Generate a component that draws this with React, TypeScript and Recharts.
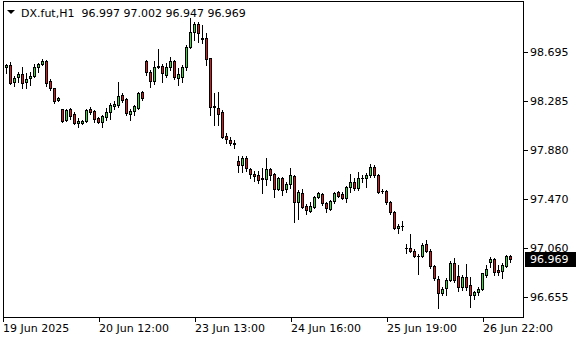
import React from 'react';
import { ComposedChart, Bar, XAxis, YAxis, ReferenceLine } from 'recharts';

// H1 bars, oldest first
const opens = [
  98.603, 98.569, 98.588, 98.444, 98.486, 98.513, 98.449, 98.478, 98.497, 98.569,
  98.599, 98.624, 98.458, 98.394, 98.294, 98.219, 98.130, 98.219, 98.180, 98.103,
  98.108, 98.124, 98.219, 98.203, 98.147, 98.116, 98.155, 98.194, 98.244, 98.255,
  98.336, 98.303, 98.180, 98.208, 98.228, 98.361, 98.619, 98.528, 98.458, 98.569,
  98.580, 98.508, 98.569, 98.624, 98.478, 98.491, 98.569, 98.741, 98.861, 98.928,
  98.816, 98.816, 98.644, 98.247, 98.228, 98.199, 97.997, 97.963, 97.941, 97.791,
  97.755, 97.811, 97.724, 97.678, 97.672, 97.643, 97.636, 97.719, 97.678, 97.559,
  97.643, 97.553, 97.593, 97.663, 97.449, 97.519, 97.415, 97.373, 97.408, 97.488,
  97.512, 97.436, 97.391, 97.453, 97.528, 97.512, 97.478, 97.569, 97.613, 97.561,
  97.647, 97.644, 97.672, 97.738, 97.672, 97.541, 97.538, 97.444, 97.366, 97.228,
  97.245, 97.061, 97.061, 97.041, 96.999, 96.999, 97.094, 97.041, 96.916, 96.805,
  96.686, 96.728, 96.797, 96.936, 96.833, 96.736, 96.824, 96.755, 96.672, 96.699,
  96.719, 96.838, 96.949, 96.972, 96.880, 96.874, 96.916, 96.997,
];
const highs = [
  98.713, 98.597, 98.616, 98.497, 98.533, 98.569, 98.519, 98.528, 98.597, 98.608,
  98.636, 98.630, 98.469, 98.399, 98.319, 98.224, 98.219, 98.228, 98.199, 98.144,
  98.130, 98.219, 98.241, 98.213, 98.158, 98.172, 98.230, 98.269, 98.291, 98.447,
  98.353, 98.311, 98.219, 98.255, 98.366, 98.374, 98.630, 98.547, 98.619, 98.719,
  98.597, 98.603, 98.658, 98.630, 98.561, 98.588, 98.755, 98.978, 98.944, 98.944,
  98.922, 98.853, 98.649, 98.352, 98.366, 98.213, 98.019, 97.991, 97.963, 97.830,
  97.830, 97.830, 97.734, 97.709, 97.701, 97.726, 97.811, 97.728, 97.686, 97.658,
  97.658, 97.616, 97.728, 97.672, 97.547, 97.555, 97.430, 97.449, 97.499, 97.533,
  97.519, 97.449, 97.463, 97.533, 97.538, 97.533, 97.583, 97.680, 97.644, 97.699,
  97.672, 97.686, 97.763, 97.759, 97.680, 97.553, 97.543, 97.451, 97.372, 97.261,
  97.291, 97.094, 97.178, 97.053, 97.011, 97.108, 97.130, 97.053, 96.922, 96.830,
  96.741, 96.811, 96.955, 96.978, 96.922, 96.838, 96.928, 96.824, 96.705, 96.741,
  96.858, 96.922, 96.991, 96.978, 96.922, 96.936, 97.005, 97.002,
];
const lows = [
  98.547, 98.519, 98.428, 98.416, 98.444, 98.399, 98.399, 98.422, 98.486, 98.533,
  98.588, 98.413, 98.380, 98.274, 98.286, 98.116, 98.122, 98.141, 98.094, 98.074,
  98.094, 98.116, 98.180, 98.111, 98.103, 98.074, 98.130, 98.141, 98.219, 98.241,
  98.283, 98.172, 98.130, 98.172, 98.219, 98.297, 98.505, 98.408, 98.428, 98.561,
  98.449, 98.491, 98.547, 98.469, 98.422, 98.449, 98.547, 98.728, 98.797, 98.783,
  98.769, 98.588, 98.172, 98.088, 98.088, 97.978, 97.941, 97.922, 97.899, 97.693,
  97.697, 97.705, 97.647, 97.622, 97.609, 97.519, 97.588, 97.630, 97.491, 97.547,
  97.501, 97.528, 97.561, 97.280, 97.305, 97.394, 97.347, 97.361, 97.394, 97.478,
  97.422, 97.361, 97.380, 97.436, 97.486, 97.469, 97.449, 97.533, 97.547, 97.547,
  97.616, 97.574, 97.658, 97.658, 97.519, 97.519, 97.428, 97.344, 97.219, 97.191,
  97.213, 97.024, 97.033, 96.991, 96.844, 96.991, 97.033, 96.894, 96.797, 96.566,
  96.672, 96.672, 96.788, 96.778, 96.708, 96.713, 96.713, 96.574, 96.638, 96.672,
  96.713, 96.824, 96.908, 96.838, 96.838, 96.811, 96.903, 96.947,
];
const closes = [
  98.553, 98.588, 98.441, 98.478, 98.513, 98.441, 98.472, 98.499, 98.569, 98.597,
  98.619, 98.441, 98.394, 98.291, 98.311, 98.124, 98.211, 98.166, 98.103, 98.122,
  98.122, 98.211, 98.194, 98.141, 98.116, 98.161, 98.197, 98.253, 98.263, 98.330,
  98.297, 98.186, 98.208, 98.247, 98.358, 98.311, 98.530, 98.458, 98.569, 98.583,
  98.519, 98.569, 98.624, 98.486, 98.511, 98.569, 98.736, 98.861, 98.928, 98.853,
  98.805, 98.636, 98.241, 98.238, 98.183, 97.991, 97.969, 97.936, 97.933, 97.751,
  97.811, 97.726, 97.678, 97.666, 97.630, 97.636, 97.722, 97.669, 97.553, 97.649,
  97.547, 97.597, 97.672, 97.449, 97.528, 97.401, 97.380, 97.411, 97.488, 97.519,
  97.436, 97.394, 97.455, 97.519, 97.499, 97.476, 97.569, 97.616, 97.561, 97.648,
  97.649, 97.672, 97.738, 97.672, 97.533, 97.536, 97.444, 97.366, 97.228, 97.249,
  97.247, 97.066, 97.041, 96.999, 96.995, 97.088, 97.041, 96.916, 96.816, 96.686,
  96.722, 96.797, 96.936, 96.797, 96.736, 96.824, 96.741, 96.672, 96.699, 96.722,
  96.853, 96.886, 96.969, 96.866, 96.861, 96.922, 96.999, 96.969,
];

const timeTickIdx = [0, 24, 48, 72, 96, 120];
const timeTickLabels = ['19 Jun 2025', '20 Jun 12:00', '23 Jun 13:00', '24 Jun 16:00', '25 Jun 19:00', '26 Jun 22:00'];
const priceTicks = [98.695, 98.285, 97.88, 97.47, 97.06, 96.655];

const BULL = '#30e030';
const BEAR = '#dd1818';
const FONT = '"DejaVu Sans", sans-serif';

const rows = opens.map((o, i) => ({
  i,
  open: o,
  high: highs[i],
  low: lows[i],
  close: closes[i],
  range: [lows[i], highs[i]],
}));

const last = rows[rows.length - 1];

function Candle(props: any) {
  const { x, y, width, height, payload } = props;
  const { open, high, low, close } = payload;
  if (high === low) return null;
  const top = Math.min(y, y + height);
  const k = Math.abs(height) / (high - low);
  const py = (v: number) => top + (high - v) * k;
  const c = Math.floor(x + width / 2);
  const yH = Math.round(py(high));
  const yL = Math.round(py(low));
  const b1 = Math.round(py(Math.max(open, close)));
  const b2 = Math.round(py(Math.min(open, close)));
  const fill = close > open ? BULL : close < open ? BEAR : '#000';
  return (
    <g>
      <rect x={c} y={yH} width={1} height={yL - yH + 1} fill="#000" />
      <rect x={c - 1} y={b1} width={3} height={b2 - b1 + 1} fill="#000" />
      {b2 - b1 >= 2 && <rect x={c} y={b1 + 1} width={1} height={b2 - b1 - 1} fill={fill} />}
    </g>
  );
}

function TimeTick(props: any) {
  const { y, payload } = props;
  const idx = timeTickIdx.indexOf(payload.value);
  const cx = Math.floor(payload.coordinate);
  return (
    <g>
      <rect x={cx} y={317} width={1} height={5} fill="#000" />
      <text x={cx} y={y} dy="0.72em" textAnchor="start" fontFamily={FONT} fontSize={11} fill="#000">
        {idx >= 0 ? timeTickLabels[idx] : ''}
      </text>
    </g>
  );
}

function PriceTick(props: any) {
  const { x, payload } = props;
  const cy = Math.round(payload.coordinate);
  return (
    <g>
      <rect x={523} y={cy} width={5} height={1} fill="#000" />
      <text x={x} y={cy} dy="0.36em" textAnchor="start" fontFamily={FONT} fontSize={11} fill="#000">
        {payload.value.toFixed(3)}
      </text>
    </g>
  );
}

function PriceTag(props: any) {
  const vb = props.viewBox;
  const cy = Math.round(vb.y);
  return (
    <g>
      <rect x={vb.x + vb.width + 2} y={cy - 7} width={51} height={15} fill="#000" />
      <text x={vb.x + vb.width + 7} y={cy} dy="0.36em" fontFamily={FONT} fontSize={11} fill="#fff">
        {last.close.toFixed(3)}
      </text>
    </g>
  );
}

export default function App() {
  return (
    <div style={{ position: 'absolute', left: 0, top: 0, width: 580, height: 340, background: '#fff' }}>
      <ComposedChart width={580} height={340} data={rows} margin={{ top: 1, right: 0, bottom: 0, left: 3 }}>
        <XAxis
          dataKey="i"
          type="number"
          domain={[0, 130]}
          allowDataOverflow
          ticks={timeTickIdx}
          interval={0}
          tick={<TimeTick />}
          tickLine={false}
          axisLine={false}
          tickMargin={2}
          tickSize={5}
          height={23}
        />
        <YAxis
          orientation="right"
          type="number"
          domain={[96.488, 99.122]}
          allowDataOverflow
          ticks={priceTicks}
          interval={0}
          tick={<PriceTick />}
          tickLine={false}
          axisLine={false}
          tickSize={4}
          tickMargin={3}
          width={57}
        />
        <Bar dataKey="range" barSize={3} shape={<Candle />} isAnimationActive={false} />
        <ReferenceLine y={last.close} stroke="none" label={(p: any) => <PriceTag {...p} />} />
      </ComposedChart>

      <div
        style={{
          position: 'absolute',
          left: 3,
          top: 1,
          width: 521,
          height: 317,
          boxSizing: 'border-box',
          border: '1px solid #000',
          pointerEvents: 'none',
        }}
      />

      <svg style={{ position: 'absolute', left: 0, top: 0 }} width={20} height={20}>
        <polygon points="7,10 15,10 11,14" fill="#000" />
      </svg>
      <div
        style={{
          position: 'absolute',
          left: 21,
          top: 7,
          fontFamily: FONT,
          fontSize: 11,
          lineHeight: 'normal',
          whiteSpace: 'pre',
          color: '#000',
        }}
      >
        {'DX.fut,H1  96.997 97.002 96.947 96.969'}
      </div>
    </div>
  );
}
